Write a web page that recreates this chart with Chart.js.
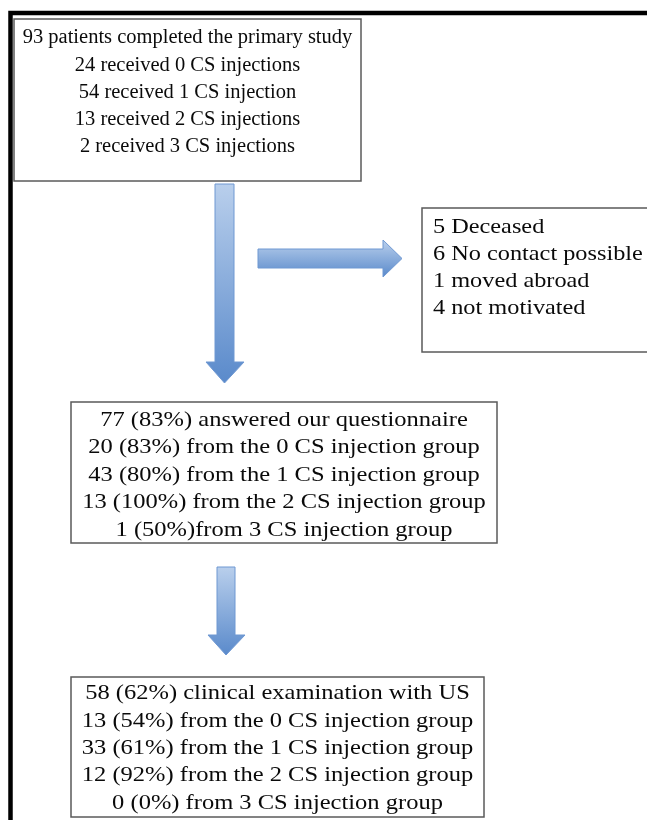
<!DOCTYPE html>
<html>
<head>
<meta charset="utf-8">
<script src="https://cdn.jsdelivr.net/npm/chart.js@4/dist/chart.umd.min.js"></script>
<style>
  html, body { margin: 0; padding: 0; background: #fff; }
  canvas { display: block; }
</style>
</head>
<body>
<canvas id="flow" width="647" height="820"></canvas>
<script>
// flow chart values
const totalCompleted = 93;
const groups = [0, 1, 2, 3];
const receivedCounts = [24, 54, 13, 2];

const lossCounts = [5, 6, 1, 4];
const lossReasons = ["Deceased", "No contact possible", "moved abroad", "not motivated"];

const answeredTotal = 77;
const answeredTotalPct = 83;
const answeredCounts = [20, 43, 13, 1];
const answeredPcts = [83, 80, 100, 50];

const examinedTotal = 58;
const examinedTotalPct = 62;
const examinedCounts = [13, 33, 12, 0];
const examinedPcts = [54, 61, 92, 0];

// text for each box, built from the arrays above
const box1Lines = [`${totalCompleted} patients completed the primary study`].concat(
  groups.map((g, i) => `${receivedCounts[i]} received ${g} CS injection${g === 1 ? "" : "s"}`)
);
const box2Lines = lossCounts.map((n, i) => `${n} ${lossReasons[i]}`);
const box3Lines = [`${answeredTotal} (${answeredTotalPct}%) answered our questionnaire`].concat(
  groups.map((g, i) => g === 3
    ? `${answeredCounts[i]} (${answeredPcts[i]}%)from ${g} CS injection group`
    : `${answeredCounts[i]} (${answeredPcts[i]}%) from the ${g} CS injection group`)
);
const box4Lines = [`${examinedTotal} (${examinedTotalPct}%) clinical examination with US`].concat(
  groups.map((g, i) => g === 3
    ? `${examinedCounts[i]} (${examinedPcts[i]}%) from ${g} CS injection group`
    : `${examinedCounts[i]} (${examinedPcts[i]}%) from the ${g} CS injection group`)
);

// layout (in scale units = pixels of the 647x820 sheet)
const boxes = [
  { x0: 14, y0: 19, x1: 361, y1: 181, lines: box1Lines, align: "center", first: 19, gap: 27.2, size: 20.5, stretch: 1.0 },
  { x0: 422, y0: 208, x1: 700, y1: 352, lines: box2Lines, align: "left", tx: 433, first: 19, gap: 27, size: 21.5, stretch: 1.13 },
  { x0: 71, y0: 402, x1: 497, y1: 543, lines: box3Lines, align: "center", first: 18, gap: 27.5, size: 21.5, stretch: 1.14 },
  { x0: 71, y0: 677, x1: 484, y1: 817, lines: box4Lines, align: "center", first: 16.5, gap: 27.4, size: 21.5, stretch: 1.14 }
];
const arrows = [
  { dir: "down", a: 215, b: 234, start: 184, headStart: 362, tip: 383, h0: 206, h1: 244 },
  { dir: "right", a: 249, b: 268, start: 258, headStart: 383, tip: 402, h0: 240, h1: 277 },
  { dir: "down", a: 217, b: 235, start: 567, headStart: 635, tip: 655, h0: 208, h1: 245 }
];

const flowPlugin = {
  id: "flow",
  afterDraw(chart) {
    const { ctx } = chart;
    const X = v => chart.scales.x.getPixelForValue(v);
    const Y = v => chart.scales.y.getPixelForValue(v);
    ctx.save();

    // outer frame
    ctx.strokeStyle = "#000";
    ctx.lineWidth = 4.5;
    ctx.strokeRect(X(10.5), Y(13), X(700) - X(10.5), Y(900) - Y(13));

    // arrows
    arrows.forEach(ar => {
      ctx.beginPath();
      let grad;
      if (ar.dir === "down") {
        ctx.moveTo(X(ar.a), Y(ar.start));
        ctx.lineTo(X(ar.b), Y(ar.start));
        ctx.lineTo(X(ar.b), Y(ar.headStart));
        ctx.lineTo(X(ar.h1), Y(ar.headStart));
        ctx.lineTo(X((ar.a + ar.b) / 2), Y(ar.tip));
        ctx.lineTo(X(ar.h0), Y(ar.headStart));
        ctx.lineTo(X(ar.a), Y(ar.headStart));
        grad = ctx.createLinearGradient(0, Y(ar.start), 0, Y(ar.tip));
      } else {
        ctx.moveTo(X(ar.start), Y(ar.a));
        ctx.lineTo(X(ar.headStart), Y(ar.a));
        ctx.lineTo(X(ar.headStart), Y(ar.h0));
        ctx.lineTo(X(ar.tip), Y((ar.a + ar.b) / 2));
        ctx.lineTo(X(ar.headStart), Y(ar.h1));
        ctx.lineTo(X(ar.headStart), Y(ar.b));
        ctx.lineTo(X(ar.start), Y(ar.b));
        grad = ctx.createLinearGradient(0, Y(ar.h0), 0, Y(ar.h1));
      }
      ctx.closePath();
      grad.addColorStop(0, "#b9cfec");
      grad.addColorStop(1, "#5a8acb");
      ctx.fillStyle = grad;
      ctx.fill();
      ctx.strokeStyle = "#6f98d2";
      ctx.lineWidth = 1;
      ctx.stroke();
    });

    // boxes and their text
    boxes.forEach(b => {
      ctx.fillStyle = "#fff";
      ctx.fillRect(X(b.x0), Y(b.y0), X(b.x1) - X(b.x0), Y(b.y1) - Y(b.y0));
      ctx.strokeStyle = "#5a5a5a";
      ctx.lineWidth = 1.5;
      ctx.strokeRect(X(b.x0), Y(b.y0), X(b.x1) - X(b.x0), Y(b.y1) - Y(b.y0));

      ctx.fillStyle = "#0a0a0a";
      ctx.font = `${b.size}px 'Liberation Serif', serif`;
      ctx.textBaseline = "middle";
      ctx.textAlign = b.align;
      const tx = b.align === "center" ? (b.x0 + b.x1) / 2 : b.tx;
      b.lines.forEach((line, i) => {
        ctx.save();
        ctx.translate(X(tx), Y(b.y0 + b.first + i * b.gap));
        ctx.scale(b.stretch, 1);
        ctx.fillText(line, 0, 0);
        ctx.restore();
      });
    });
    ctx.restore();
  }
};

new Chart(document.getElementById("flow"), {
  type: "scatter",
  data: { datasets: [{ data: [] }] },
  options: {
    responsive: false,
    animation: false,
    layout: { padding: 0 },
    plugins: { legend: { display: false }, tooltip: { enabled: false } },
    scales: {
      x: { type: "linear", min: 0, max: 647, display: false },
      y: { type: "linear", min: 0, max: 820, reverse: true, display: false }
    }
  },
  plugins: [flowPlugin]
});
</script>
</body>
</html>
